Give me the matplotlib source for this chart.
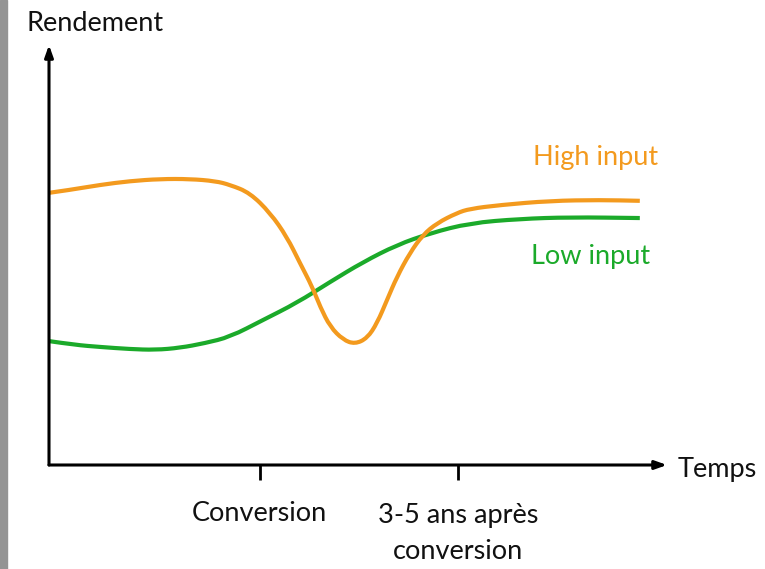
import matplotlib
matplotlib.use("Agg")
import matplotlib.pyplot as plt
from matplotlib.patches import Rectangle, PathPatch
from matplotlib.path import Path

# ---- data (time units, yield units) ----
high_t = [0.00, 0.34, 0.83, 1.31, 1.80, 2.28, 2.69, 2.93, 3.25, 3.58, 3.85, 4.06,
          4.26, 4.39, 4.55, 4.76, 4.95, 5.15, 5.31, 5.47, 5.63, 5.84, 6.05, 6.28,
          6.60, 6.81, 7.30, 8.11, 8.92, 9.56]
high_y = [6.48, 6.55, 6.67, 6.76, 6.81, 6.81, 6.76, 6.67, 6.48, 6.00, 5.43, 4.81,
          4.24, 3.76, 3.29, 2.98, 2.88, 3.02, 3.38, 3.93, 4.48, 5.05, 5.48, 5.76,
          6.00, 6.10, 6.19, 6.29, 6.31, 6.29]

low_t = [0.00, 0.42, 0.83, 1.31, 1.72, 2.12, 2.52, 2.93, 3.46, 4.01, 4.55, 5.08,
         5.63, 6.17, 6.81, 7.62, 8.43, 9.56]
low_y = [2.95, 2.86, 2.81, 2.76, 2.74, 2.79, 2.90, 3.05, 3.45, 3.86, 4.36, 4.83,
         5.24, 5.52, 5.76, 5.86, 5.90, 5.88]

tick_pos = [3.41, 6.62]
tick_labels = ["Conversion", "3-5 ans après\nconversion"]
series_labels = ["High input", "Low input"]
x_label = "Temps"
y_label = "Rendement"

ORANGE = "#F39A1E"
GREEN = "#1BAA2A"
FONT = "Lato"
FS = 19.5

fig = plt.figure(figsize=(7.65, 5.69), dpi=100)
ax = fig.add_axes([0, 0, 1, 1])
px_per_x = 61.8
px_per_y = 42.0
x0_px, y0_px = 49.0, 465.0
ax.set_xlim(-x0_px / px_per_x, (765 - x0_px) / px_per_x)
ax.set_ylim(-(569 - y0_px) / px_per_y, y0_px / px_per_y)
ax.axis("off")

# gray bar at left edge
fig.patches.append(Rectangle((0, 0), 7 / 765, 1, transform=fig.transFigure,
                             color="#949494", zorder=0))


def smooth_curve(xs, ys, color, z):
    """Draw the series as a smooth quadratic Bezier path through the points."""
    pts = list(zip(xs, ys))
    verts = [pts[0]]
    codes = [Path.MOVETO]
    for i in range(1, len(pts) - 1):
        mid = ((pts[i][0] + pts[i + 1][0]) / 2, (pts[i][1] + pts[i + 1][1]) / 2)
        verts += [pts[i], mid]
        codes += [Path.CURVE3, Path.CURVE3]
    verts.append(pts[-1])
    codes.append(Path.LINETO)
    patch = PathPatch(Path(verts, codes), facecolor="none", edgecolor=color,
                      lw=3.0, capstyle="butt", joinstyle="round", zorder=z)
    ax.add_patch(patch)


smooth_curve(high_t, high_y, ORANGE, 3)
smooth_curve(low_t, low_y, GREEN, 2)

# axes with arrows
ax.annotate("", xy=(10.0, 0), xytext=(0, 0),
            arrowprops=dict(arrowstyle="-|>,head_length=0.7,head_width=0.25",
                            lw=2.2, color="black", shrinkA=0, shrinkB=0))
ax.annotate("", xy=(0, 10.0), xytext=(0, 0),
            arrowprops=dict(arrowstyle="-|>,head_length=0.7,head_width=0.25",
                            lw=2.2, color="black", shrinkA=0, shrinkB=0))

# ticks
for tp in tick_pos:
    ax.plot([tp, tp], [0, -0.36], color="black", lw=2.0, solid_capstyle="butt")

ax.text(tick_pos[0], -0.86, tick_labels[0], ha="center", va="top",
        fontsize=FS, family=FONT, color="#111111")
ax.text(tick_pos[1], -0.9, tick_labels[1], ha="center", va="top",
        fontsize=FS, family=FONT, color="#111111", linespacing=1.55)

ax.text(10.18, -0.1, x_label, ha="left", va="center", fontsize=FS,
        family=FONT, color="#111111")
ax.text(-0.36, 10.52, y_label, ha="left", va="center", fontsize=FS,
        family=FONT, color="#111111")

ax.text(8.85, 7.33, series_labels[0], ha="center", va="center",
        fontsize=FS, family=FONT, color=ORANGE)
ax.text(8.77, 4.97, series_labels[1], ha="center", va="center",
        fontsize=FS, family=FONT, color=GREEN)

fig.savefig("out.png", dpi=100)
